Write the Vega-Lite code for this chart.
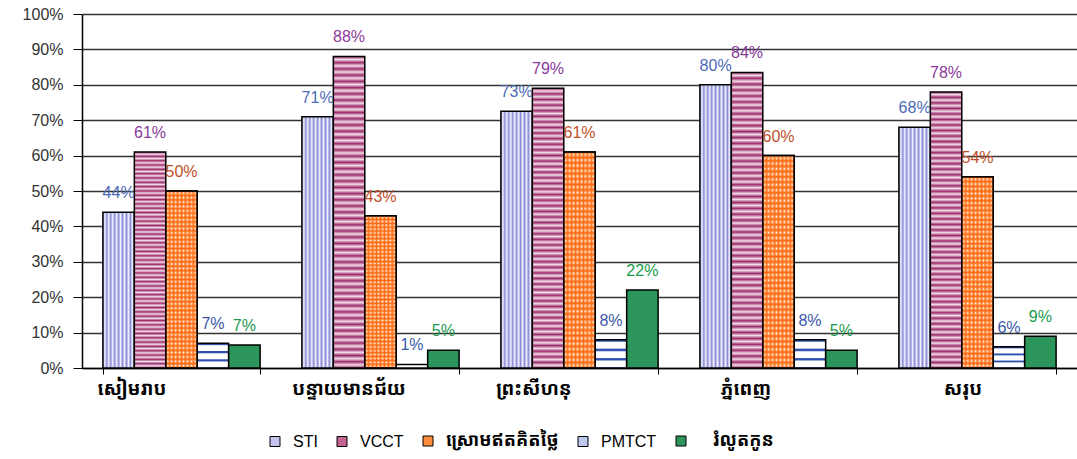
{
  "$schema": "https://vega.github.io/schema/vega-lite/v6.json",
  "width": 995,
  "height": 354,
  "autosize": {"type": "none"},
  "padding": {"left": 82, "top": 14, "right": 0, "bottom": 91},
  "background": "white",
  "config": {"view": {"stroke": null}, "font": "Liberation Sans"},
  "data": {
    "values": [
      {"region": "សៀមរាប", "series": "STI", "v": 0.44},
      {"region": "សៀមរាប", "series": "VCCT", "v": 0.61},
      {"region": "សៀមរាប", "series": "ស្រោមឥតគិតថ្លៃ", "v": 0.50},
      {"region": "សៀមរាប", "series": "PMTCT", "v": 0.07},
      {"region": "សៀមរាប", "series": "រំលូតកូន", "v": 0.065},
      {"region": "បន្ទាយមានជ័យ", "series": "STI", "v": 0.71},
      {"region": "បន្ទាយមានជ័យ", "series": "VCCT", "v": 0.88},
      {"region": "បន្ទាយមានជ័យ", "series": "ស្រោមឥតគិតថ្លៃ", "v": 0.43},
      {"region": "បន្ទាយមានជ័យ", "series": "PMTCT", "v": 0.01},
      {"region": "បន្ទាយមានជ័យ", "series": "រំលូតកូន", "v": 0.05},
      {"region": "ព្រះសីហនុ", "series": "STI", "v": 0.725},
      {"region": "ព្រះសីហនុ", "series": "VCCT", "v": 0.79},
      {"region": "ព្រះសីហនុ", "series": "ស្រោមឥតគិតថ្លៃ", "v": 0.61},
      {"region": "ព្រះសីហនុ", "series": "PMTCT", "v": 0.08},
      {"region": "ព្រះសីហនុ", "series": "រំលូតកូន", "v": 0.22},
      {"region": "ភ្នំពេញ", "series": "STI", "v": 0.80},
      {"region": "ភ្នំពេញ", "series": "VCCT", "v": 0.835},
      {"region": "ភ្នំពេញ", "series": "ស្រោមឥតគិតថ្លៃ", "v": 0.60},
      {"region": "ភ្នំពេញ", "series": "PMTCT", "v": 0.08},
      {"region": "ភ្នំពេញ", "series": "រំលូតកូន", "v": 0.05},
      {"region": "សរុប", "series": "STI", "v": 0.68},
      {"region": "សរុប", "series": "VCCT", "v": 0.78},
      {"region": "សរុប", "series": "ស្រោមឥតគិតថ្លៃ", "v": 0.54},
      {"region": "សរុប", "series": "PMTCT", "v": 0.06},
      {"region": "សរុប", "series": "រំលូតកូន", "v": 0.09}
    ]
  },
  "encoding": {
    "x": {
      "field": "region",
      "type": "nominal",
      "sort": ["សៀមរាប", "បន្ទាយមានជ័យ", "ព្រះសីហនុ", "ភ្នំពេញ", "សរុប"],
      "scale": {"paddingInner": 0.21, "paddingOuter": 0.105},
      "axis": {
        "title": null,
        "labelAngle": 0,
        "tickBand": "extent",
        "tickSize": 6,
        "tickColor": "black",
        "domainColor": "black",
        "domainWidth": 1.5,
        "labelFont": "Noto Sans Khmer, Khmer OS, Khmer OS System, sans-serif",
        "labelFontSize": 19,
        "labelFontWeight": "bold",
        "labelColor": "black",
        "labelPadding": 5,
        "labelOffset": {
          "condition": [
            {"test": "datum.value === 'សៀមរាប'", "value": -50},
            {"test": "datum.value === 'បន្ទាយមានជ័យ'", "value": -32},
            {"test": "datum.value === 'ព្រះសីហនុ'", "value": -46},
            {"test": "datum.value === 'ភ្នំពេញ'", "value": -33}
          ],
          "value": -15
        },
        "grid": false
      }
    },
    "xOffset": {
      "field": "series",
      "sort": ["STI", "VCCT", "ស្រោមឥតគិតថ្លៃ", "PMTCT", "រំលូតកូន"]
    },
    "y": {
      "field": "v",
      "type": "quantitative",
      "scale": {"domain": [0, 1]},
      "axis": {
        "title": null,
        "format": ".0%",
        "values": [0, 0.1, 0.2, 0.3, 0.4, 0.5, 0.6, 0.7, 0.8, 0.9, 1],
        "grid": true,
        "gridColor": "#333333",
        "gridWidth": 1.3,
        "tickSize": 9,
        "tickColor": "black",
        "domainColor": "black",
        "domainWidth": 1.5,
        "labelFontSize": 16,
        "labelColor": "#333333",
        "labelPadding": 10
      }
    }
  },
  "layer": [
    {
      "mark": {"type": "bar", "stroke": "black", "strokeWidth": 1.5},
      "encoding": {
        "fill": {
          "condition": [
            {"test": "datum.series === 'STI'", "value":
              {"gradient": "linear", "x1": 0, "y1": 0, "x2": 1, "y2": 0, "stops": [
                {"offset": 0, "color": "#8c8cd4"}, {"offset": 0.0625, "color": "#f0f0ff"},
                {"offset": 0.125, "color": "#8c8cd4"}, {"offset": 0.1875, "color": "#f0f0ff"},
                {"offset": 0.25, "color": "#8c8cd4"}, {"offset": 0.3125, "color": "#f0f0ff"},
                {"offset": 0.375, "color": "#8c8cd4"}, {"offset": 0.4375, "color": "#f0f0ff"},
                {"offset": 0.5, "color": "#8c8cd4"}, {"offset": 0.5625, "color": "#f0f0ff"},
                {"offset": 0.625, "color": "#8c8cd4"}, {"offset": 0.6875, "color": "#f0f0ff"},
                {"offset": 0.75, "color": "#8c8cd4"}, {"offset": 0.8125, "color": "#f0f0ff"},
                {"offset": 0.875, "color": "#8c8cd4"}, {"offset": 0.9375, "color": "#f0f0ff"},
                {"offset": 1, "color": "#8c8cd4"}
              ]}},
            {"test": "datum.series === 'VCCT'", "value":
              {"gradient": "linear", "x1": 0, "y1": 0, "x2": 0, "y2": 1, "stops": [
                {"offset": 0, "color": "#9c2c6c"}, {"offset": 0.01, "color": "#f4dce8"},
                {"offset": 0.02, "color": "#9c2c6c"}, {"offset": 0.03, "color": "#f4dce8"},
                {"offset": 0.04, "color": "#9c2c6c"}, {"offset": 0.05, "color": "#f4dce8"},
                {"offset": 0.06, "color": "#9c2c6c"}, {"offset": 0.07, "color": "#f4dce8"},
                {"offset": 0.08, "color": "#9c2c6c"}, {"offset": 0.09, "color": "#f4dce8"},
                {"offset": 0.10, "color": "#9c2c6c"}, {"offset": 0.11, "color": "#f4dce8"},
                {"offset": 0.12, "color": "#9c2c6c"}, {"offset": 0.13, "color": "#f4dce8"},
                {"offset": 0.14, "color": "#9c2c6c"}, {"offset": 0.15, "color": "#f4dce8"},
                {"offset": 0.16, "color": "#9c2c6c"}, {"offset": 0.17, "color": "#f4dce8"},
                {"offset": 0.18, "color": "#9c2c6c"}, {"offset": 0.19, "color": "#f4dce8"},
                {"offset": 0.20, "color": "#9c2c6c"}, {"offset": 0.21, "color": "#f4dce8"},
                {"offset": 0.22, "color": "#9c2c6c"}, {"offset": 0.23, "color": "#f4dce8"},
                {"offset": 0.24, "color": "#9c2c6c"}, {"offset": 0.25, "color": "#f4dce8"},
                {"offset": 0.26, "color": "#9c2c6c"}, {"offset": 0.27, "color": "#f4dce8"},
                {"offset": 0.28, "color": "#9c2c6c"}, {"offset": 0.29, "color": "#f4dce8"},
                {"offset": 0.30, "color": "#9c2c6c"}, {"offset": 0.31, "color": "#f4dce8"},
                {"offset": 0.32, "color": "#9c2c6c"}, {"offset": 0.33, "color": "#f4dce8"},
                {"offset": 0.34, "color": "#9c2c6c"}, {"offset": 0.35, "color": "#f4dce8"},
                {"offset": 0.36, "color": "#9c2c6c"}, {"offset": 0.37, "color": "#f4dce8"},
                {"offset": 0.38, "color": "#9c2c6c"}, {"offset": 0.39, "color": "#f4dce8"},
                {"offset": 0.40, "color": "#9c2c6c"}, {"offset": 0.41, "color": "#f4dce8"},
                {"offset": 0.42, "color": "#9c2c6c"}, {"offset": 0.43, "color": "#f4dce8"},
                {"offset": 0.44, "color": "#9c2c6c"}, {"offset": 0.45, "color": "#f4dce8"},
                {"offset": 0.46, "color": "#9c2c6c"}, {"offset": 0.47, "color": "#f4dce8"},
                {"offset": 0.48, "color": "#9c2c6c"}, {"offset": 0.49, "color": "#f4dce8"},
                {"offset": 0.50, "color": "#9c2c6c"}, {"offset": 0.51, "color": "#f4dce8"},
                {"offset": 0.52, "color": "#9c2c6c"}, {"offset": 0.53, "color": "#f4dce8"},
                {"offset": 0.54, "color": "#9c2c6c"}, {"offset": 0.55, "color": "#f4dce8"},
                {"offset": 0.56, "color": "#9c2c6c"}, {"offset": 0.57, "color": "#f4dce8"},
                {"offset": 0.58, "color": "#9c2c6c"}, {"offset": 0.59, "color": "#f4dce8"},
                {"offset": 0.60, "color": "#9c2c6c"}, {"offset": 0.61, "color": "#f4dce8"},
                {"offset": 0.62, "color": "#9c2c6c"}, {"offset": 0.63, "color": "#f4dce8"},
                {"offset": 0.64, "color": "#9c2c6c"}, {"offset": 0.65, "color": "#f4dce8"},
                {"offset": 0.66, "color": "#9c2c6c"}, {"offset": 0.67, "color": "#f4dce8"},
                {"offset": 0.68, "color": "#9c2c6c"}, {"offset": 0.69, "color": "#f4dce8"},
                {"offset": 0.70, "color": "#9c2c6c"}, {"offset": 0.71, "color": "#f4dce8"},
                {"offset": 0.72, "color": "#9c2c6c"}, {"offset": 0.73, "color": "#f4dce8"},
                {"offset": 0.74, "color": "#9c2c6c"}, {"offset": 0.75, "color": "#f4dce8"},
                {"offset": 0.76, "color": "#9c2c6c"}, {"offset": 0.77, "color": "#f4dce8"},
                {"offset": 0.78, "color": "#9c2c6c"}, {"offset": 0.79, "color": "#f4dce8"},
                {"offset": 0.80, "color": "#9c2c6c"}, {"offset": 0.81, "color": "#f4dce8"},
                {"offset": 0.82, "color": "#9c2c6c"}, {"offset": 0.83, "color": "#f4dce8"},
                {"offset": 0.84, "color": "#9c2c6c"}, {"offset": 0.85, "color": "#f4dce8"},
                {"offset": 0.86, "color": "#9c2c6c"}, {"offset": 0.87, "color": "#f4dce8"},
                {"offset": 0.88, "color": "#9c2c6c"}, {"offset": 0.89, "color": "#f4dce8"},
                {"offset": 0.90, "color": "#9c2c6c"}, {"offset": 0.91, "color": "#f4dce8"},
                {"offset": 0.92, "color": "#9c2c6c"}, {"offset": 0.93, "color": "#f4dce8"},
                {"offset": 0.94, "color": "#9c2c6c"}, {"offset": 0.95, "color": "#f4dce8"},
                {"offset": 0.96, "color": "#9c2c6c"}, {"offset": 0.97, "color": "#f4dce8"},
                {"offset": 0.98, "color": "#9c2c6c"}, {"offset": 0.99, "color": "#f4dce8"},
                {"offset": 1, "color": "#9c2c6c"}
              ]}},
            {"test": "datum.series === 'ស្រោមឥតគិតថ្លៃ'", "value":
              {"gradient": "linear", "x1": 0, "y1": 0, "x2": 0, "y2": 1, "stops": [
                {"offset": 0, "color": "#ff6a10"}, {"offset": 0.0125, "color": "#fff0e0"},
                {"offset": 0.025, "color": "#ff6a10"}, {"offset": 0.0375, "color": "#fff0e0"},
                {"offset": 0.05, "color": "#ff6a10"}, {"offset": 0.0625, "color": "#fff0e0"},
                {"offset": 0.075, "color": "#ff6a10"}, {"offset": 0.0875, "color": "#fff0e0"},
                {"offset": 0.1, "color": "#ff6a10"}, {"offset": 0.1125, "color": "#fff0e0"},
                {"offset": 0.125, "color": "#ff6a10"}, {"offset": 0.1375, "color": "#fff0e0"},
                {"offset": 0.15, "color": "#ff6a10"}, {"offset": 0.1625, "color": "#fff0e0"},
                {"offset": 0.175, "color": "#ff6a10"}, {"offset": 0.1875, "color": "#fff0e0"},
                {"offset": 0.2, "color": "#ff6a10"}, {"offset": 0.2125, "color": "#fff0e0"},
                {"offset": 0.225, "color": "#ff6a10"}, {"offset": 0.2375, "color": "#fff0e0"},
                {"offset": 0.25, "color": "#ff6a10"}, {"offset": 0.2625, "color": "#fff0e0"},
                {"offset": 0.275, "color": "#ff6a10"}, {"offset": 0.2875, "color": "#fff0e0"},
                {"offset": 0.3, "color": "#ff6a10"}, {"offset": 0.3125, "color": "#fff0e0"},
                {"offset": 0.325, "color": "#ff6a10"}, {"offset": 0.3375, "color": "#fff0e0"},
                {"offset": 0.35, "color": "#ff6a10"}, {"offset": 0.3625, "color": "#fff0e0"},
                {"offset": 0.375, "color": "#ff6a10"}, {"offset": 0.3875, "color": "#fff0e0"},
                {"offset": 0.4, "color": "#ff6a10"}, {"offset": 0.4125, "color": "#fff0e0"},
                {"offset": 0.425, "color": "#ff6a10"}, {"offset": 0.4375, "color": "#fff0e0"},
                {"offset": 0.45, "color": "#ff6a10"}, {"offset": 0.4625, "color": "#fff0e0"},
                {"offset": 0.475, "color": "#ff6a10"}, {"offset": 0.4875, "color": "#fff0e0"},
                {"offset": 0.5, "color": "#ff6a10"}, {"offset": 0.5125, "color": "#fff0e0"},
                {"offset": 0.525, "color": "#ff6a10"}, {"offset": 0.5375, "color": "#fff0e0"},
                {"offset": 0.55, "color": "#ff6a10"}, {"offset": 0.5625, "color": "#fff0e0"},
                {"offset": 0.575, "color": "#ff6a10"}, {"offset": 0.5875, "color": "#fff0e0"},
                {"offset": 0.6, "color": "#ff6a10"}, {"offset": 0.6125, "color": "#fff0e0"},
                {"offset": 0.625, "color": "#ff6a10"}, {"offset": 0.6375, "color": "#fff0e0"},
                {"offset": 0.65, "color": "#ff6a10"}, {"offset": 0.6625, "color": "#fff0e0"},
                {"offset": 0.675, "color": "#ff6a10"}, {"offset": 0.6875, "color": "#fff0e0"},
                {"offset": 0.7, "color": "#ff6a10"}, {"offset": 0.7125, "color": "#fff0e0"},
                {"offset": 0.725, "color": "#ff6a10"}, {"offset": 0.7375, "color": "#fff0e0"},
                {"offset": 0.75, "color": "#ff6a10"}, {"offset": 0.7625, "color": "#fff0e0"},
                {"offset": 0.775, "color": "#ff6a10"}, {"offset": 0.7875, "color": "#fff0e0"},
                {"offset": 0.8, "color": "#ff6a10"}, {"offset": 0.8125, "color": "#fff0e0"},
                {"offset": 0.825, "color": "#ff6a10"}, {"offset": 0.8375, "color": "#fff0e0"},
                {"offset": 0.85, "color": "#ff6a10"}, {"offset": 0.8625, "color": "#fff0e0"},
                {"offset": 0.875, "color": "#ff6a10"}, {"offset": 0.8875, "color": "#fff0e0"},
                {"offset": 0.9, "color": "#ff6a10"}, {"offset": 0.9125, "color": "#fff0e0"},
                {"offset": 0.925, "color": "#ff6a10"}, {"offset": 0.9375, "color": "#fff0e0"},
                {"offset": 0.95, "color": "#ff6a10"}, {"offset": 0.9625, "color": "#fff0e0"},
                {"offset": 0.975, "color": "#ff6a10"}, {"offset": 0.9875, "color": "#fff0e0"},
                {"offset": 1, "color": "#ff6a10"}
              ]}},
            {"test": "datum.series === 'PMTCT'", "value":
              {"gradient": "linear", "x1": 0, "y1": 0, "x2": 0, "y2": 1, "stops": [
                {"offset": 0, "color": "#3050b0"}, {"offset": 0.05, "color": "#3050b0"},
                {"offset": 0.1, "color": "#ffffff"}, {"offset": 0.3, "color": "#ffffff"},
                {"offset": 0.333, "color": "#3050b0"}, {"offset": 0.38, "color": "#3050b0"},
                {"offset": 0.43, "color": "#ffffff"}, {"offset": 0.63, "color": "#ffffff"},
                {"offset": 0.667, "color": "#3050b0"}, {"offset": 0.71, "color": "#3050b0"},
                {"offset": 0.76, "color": "#ffffff"}, {"offset": 0.96, "color": "#ffffff"},
                {"offset": 1, "color": "#3050b0"}
              ]}}
          ],
          "field": "series",
          "type": "nominal",
          "scale": {
            "domain": ["STI", "VCCT", "ស្រោមឥតគិតថ្លៃ", "PMTCT", "រំលូតកូន"],
            "range": ["#c4c4ee", "#c46494", "#fc8f3f", "#bcc8ee", "#2b955b"]
          },
          "legend": {
            "title": null,
            "orient": "none",
            "direction": "horizontal",
            "legendX": 184,
            "legendY": 418,
            "symbolType": "square",
            "symbolSize": 100,
            "symbolStrokeColor": "black",
            "symbolStrokeWidth": 1,
            "symbolOpacity": 1,
            "labelFont": "Liberation Sans, Noto Sans Khmer, Khmer OS, sans-serif",
            "labelFontSize": 16,
            "labelColor": "black",
            "columnPadding": 15,
            "labelOffset": 9,
            "encode": {
              "labels": {
                "update": {
                  "fontSize": {"signal": "test(/^[A-Z]+$/, datum.label) ? 16 : 18"},
                  "fontWeight": {"signal": "test(/^[A-Z]+$/, datum.label) ? 'normal' : 'bold'"},
                  "dx": {"signal": "datum.label === 'PMTCT' ? 0 : (datum.label === 'រំលូតកូន' ? 14 : 0)"}
                }
              }
            }
          }
        }
      }
    },
    {
      "transform": [{"filter": "datum.series === 'ស្រោមឥតគិតថ្លៃ'"}],
      "mark": {
        "type": "bar",
        "stroke": "black",
        "strokeWidth": 1.5,
        "fill": {"gradient": "linear", "x1": 0, "y1": 0, "x2": 1, "y2": 0, "stops": [
          {"offset": 0, "color": "rgba(255,106,16,0.9)"}, {"offset": 0.0625, "color": "rgba(255,106,16,0)"},
          {"offset": 0.125, "color": "rgba(255,106,16,0.9)"}, {"offset": 0.1875, "color": "rgba(255,106,16,0)"},
          {"offset": 0.25, "color": "rgba(255,106,16,0.9)"}, {"offset": 0.3125, "color": "rgba(255,106,16,0)"},
          {"offset": 0.375, "color": "rgba(255,106,16,0.9)"}, {"offset": 0.4375, "color": "rgba(255,106,16,0)"},
          {"offset": 0.5, "color": "rgba(255,106,16,0.9)"}, {"offset": 0.5625, "color": "rgba(255,106,16,0)"},
          {"offset": 0.625, "color": "rgba(255,106,16,0.9)"}, {"offset": 0.6875, "color": "rgba(255,106,16,0)"},
          {"offset": 0.75, "color": "rgba(255,106,16,0.9)"}, {"offset": 0.8125, "color": "rgba(255,106,16,0)"},
          {"offset": 0.875, "color": "rgba(255,106,16,0.9)"}, {"offset": 0.9375, "color": "rgba(255,106,16,0)"},
          {"offset": 1, "color": "rgba(255,106,16,0.9)"}
        ]}
      },
      "encoding": {}
    },
    {
      "mark": {"type": "text", "dy": -19, "fontSize": 16, "font": "Liberation Sans"},
      "encoding": {
        "text": {"field": "v", "type": "quantitative", "format": ".0%"},
        "color": {
          "field": "series",
          "type": "nominal",
          "scale": {
            "domain": ["STI", "VCCT", "ស្រោមឥតគិតថ្លៃ", "PMTCT", "រំលូតកូន"],
            "range": ["#4a6ab8", "#8a3a9a", "#c0502a", "#3a58a8", "#1a9a50"]
          },
          "legend": null
        }
      }
    }
  ]
}
